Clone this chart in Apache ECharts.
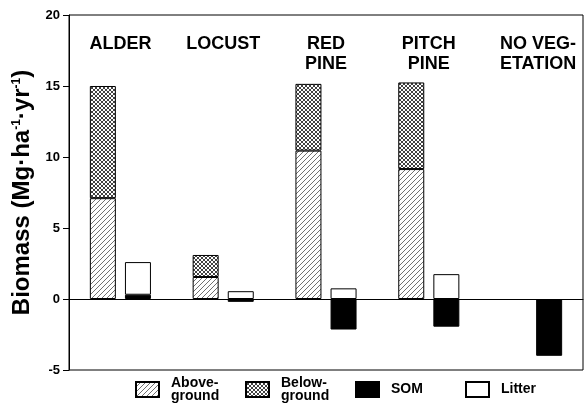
<!DOCTYPE html>
<html><head><meta charset="utf-8">
<script src="https://cdn.jsdelivr.net/npm/echarts@6/dist/echarts.min.js"></script>
<style>html,body{margin:0;padding:0;background:#fff}#c{width:586px;height:403px}</style>
</head><body><div id="c"></div>
<script>
var categories = ['ALDER', 'LOCUST', 'RED\nPINE', 'PITCH\nPINE', 'NO VEG-\nETATION'];
var aboveground = [7.1, 1.55, 10.45, 9.15, null];
var belowground = [7.9, 1.55, 4.7, 6.1, null];
var som = [0.3, -0.2, -2.15, -1.95, -4.0];
var litter = [2.3, 0.55, 0.75, 1.75, null];
var yTicks = {min: -5, max: 20, interval: 5};
var legendNames = ['Above-\nground', 'Below-\nground', 'SOM', 'Litter'];

function hatch() {
  var c = document.createElement('canvas'); c.width = 5; c.height = 5;
  var g = c.getContext('2d');
  g.fillStyle = '#fff'; g.fillRect(0, 0, 5, 5);
  g.strokeStyle = '#333'; g.lineWidth = 0.7;
  g.beginPath();
  g.moveTo(-1, 6); g.lineTo(6, -1);
  g.moveTo(-1, 1); g.lineTo(1, -1);
  g.moveTo(4, 6); g.lineTo(6, 4);
  g.stroke();
  return c;
}
function cross() {
  var c = document.createElement('canvas'); c.width = 4; c.height = 4;
  var g = c.getContext('2d');
  g.fillStyle = '#fff'; g.fillRect(0, 0, 4, 4);
  g.strokeStyle = '#111'; g.lineWidth = 0.8;
  g.beginPath();
  g.moveTo(0, 0); g.lineTo(4, 4);
  g.moveTo(0, 4); g.lineTo(4, 0);
  g.stroke();
  return c;
}
var FONT = '"Liberation Sans", Arial, Helvetica, sans-serif';
var chart = echarts.init(document.getElementById('c'), null, {renderer: 'canvas'});
var border = {borderColor: '#000', borderWidth: 1};
var catLabelStyles = categories.map(function (c, i) {
  return i === 4 ? {value: c, textStyle: {padding: [0, 0, 0, 13]}} : c;
});
var legendData = legendNames.map(function (n) {
  return n.indexOf('\n') < 0 ? {name: n, textStyle: {padding: [7, 0, 0, 7]}} : {name: n};
});
chart.setOption({
  animation: false,
  textStyle: {fontFamily: FONT},
  grid: {left: 69, right: 3, top: 15, bottom: 33, show: true, borderColor: '#000', borderWidth: 1, backgroundColor: 'transparent'},
  legend: {
    left: 135, top: 376, padding: 0, itemWidth: 23, itemHeight: 15, itemGap: 0, icon: 'rect',
    data: legendData,
    textStyle: {fontFamily: FONT, fontSize: 14, fontWeight: 'bold', color: '#000', lineHeight: 13, width: 74, padding: [0, 0, 0, 7]}
  },
  xAxis: [{
    type: 'category', data: categories,
    axisLine: {onZero: true, lineStyle: {color: '#000', width: 1}},
    axisTick: {show: false}, axisLabel: {show: false}
  }, {
    type: 'category', data: catLabelStyles, position: 'top',
    axisLine: {show: false}, axisTick: {show: false},
    axisLabel: {inside: true, margin: 19, fontFamily: FONT, fontSize: 18, fontWeight: 'bold', color: '#000', lineHeight: 20, align: 'center'}
  }],
  yAxis: {
    type: 'value', min: yTicks.min, max: yTicks.max, interval: yTicks.interval,
    name: 'Biomass (Mg·ha{s|-1}·yr{s|-1})', nameLocation: 'middle', nameGap: 34,
    nameTextStyle: {fontFamily: FONT, fontSize: 24, fontWeight: 'bold', color: '#000',
      rich: {s: {fontFamily: FONT, fontSize: 12, fontWeight: 'bold', color: '#000', verticalAlign: 'top', padding: [0, 0, 10, 0]}}},
    axisLine: {show: true, lineStyle: {color: '#000'}},
    axisTick: {show: true, inside: false, length: 6, lineStyle: {color: '#000'}},
    axisLabel: {fontFamily: FONT, fontSize: 13, fontWeight: 'bold', color: '#000', margin: 9},
    splitLine: {show: false}
  },
  series: [
    {name: legendNames[0], type: 'bar', stack: 'veg', data: aboveground, barWidth: 26, barGap: '35%',
      itemStyle: Object.assign({color: {image: hatch(), repeat: 'repeat'}}, border)},
    {name: legendNames[1], type: 'bar', stack: 'veg', data: belowground, barWidth: 26, barGap: '35%',
      itemStyle: Object.assign({color: {image: cross(), repeat: 'repeat'}}, border)},
    {name: legendNames[2], type: 'bar', stack: 'soil', data: som, barWidth: 26, barGap: '35%',
      itemStyle: Object.assign({color: '#000'}, border)},
    {name: legendNames[3], type: 'bar', stack: 'soil', data: litter, barWidth: 26, barGap: '35%',
      itemStyle: Object.assign({color: '#fff'}, border)}
  ]
});
</script></body></html>
